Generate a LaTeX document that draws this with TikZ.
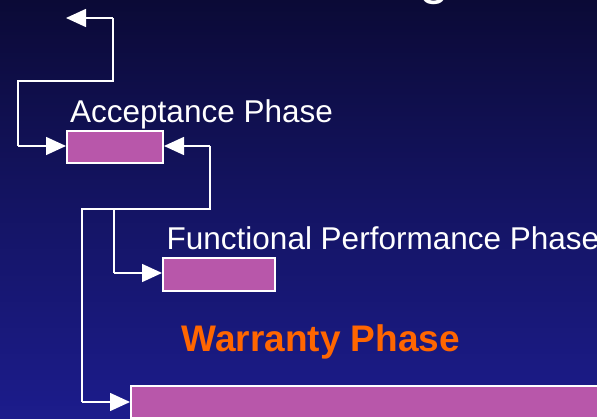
\documentclass[tikz,border=0pt]{standalone}
\usepackage{fontspec}
\setmainfont{Liberation Sans}
\usetikzlibrary{arrows.meta}
\definecolor{bgtop}{RGB}{11,10,54}
\definecolor{bgbot}{RGB}{28,28,140}
\definecolor{boxfill}{RGB}{184,87,170}
\definecolor{warn}{RGB}{255,102,0}
\tikzset{
  phasebox/.style={draw=white, line width=2pt, fill=boxfill, inner sep=0pt, anchor=north west},
  lbl/.style={text=white, inner sep=0pt, anchor=base west, font=\fontsize{31.5}{36}\selectfont},
  link/.style={draw=white, line width=1.5pt, -{Triangle[width=18pt,length=20pt]}},
  plain/.style={draw=white, line width=1.5pt}
}
\begin{document}
\begin{tikzpicture}[x=1pt,y=-1pt]
\useasboundingbox (0,0) rectangle (597,419);
\clip (0,0) rectangle (597,419);
\shade[top color=bgtop, bottom color=bgbot, middle color={rgb,255:red,20;green,20;blue,100}] (0,0) rectangle (597,419);
% cut-off title glyph
\node[text=white, inner sep=0pt, anchor=base west, font=\fontsize{54}{60}\selectfont] (title) at (419,-6) {g};
% boxes
\node[phasebox, minimum width=96pt, minimum height=32pt] (acc) at (66,130) {};
\node[phasebox, minimum width=112pt, minimum height=33pt] (func) at (162,257) {};
\node[phasebox, minimum width=520pt, minimum height=32pt] (war) at (130,385) {};
% labels
\node[lbl] (acclbl) at (70,123) {Acceptance Phase};
\node[lbl] (funclbl) at (166.5,250) {Functional Performance Phase};
\node[inner sep=0pt, anchor=base west, text=warn, font=\bfseries\fontsize{37}{42}\selectfont] (warlbl) at (181.5,352) {Warranty Phase};
% connectors
\coordinate (topend) at (66,18);
\coordinate (ja) at (113,18);
\coordinate (jb) at (113,81);
\coordinate (jc) at (18,81);
\coordinate (jd) at (18,146);
\draw[link] (jd) -- (acc.west |- jd);
\draw[plain] (jd) -- (jc) -- (jb) -- (ja);
\draw[link] (ja) -- (topend);
\coordinate (ra) at (210,146);
\coordinate (rb) at (210,209);
\coordinate (rc) at (82,209);
\coordinate (rd) at (82,402);
\coordinate (fa) at (114,209);
\coordinate (fb) at (114,273);
\draw[link] (ra) -- (acc.east |- ra);
\draw[plain] (ra) -- (rb) -- (rc) -- (rd);
\draw[link] (rd) -- (war.west |- rd);
\draw[plain] (fa) -- (fb);
\draw[link] (fb) -- (func.west |- fb);
\end{tikzpicture}
\end{document}
